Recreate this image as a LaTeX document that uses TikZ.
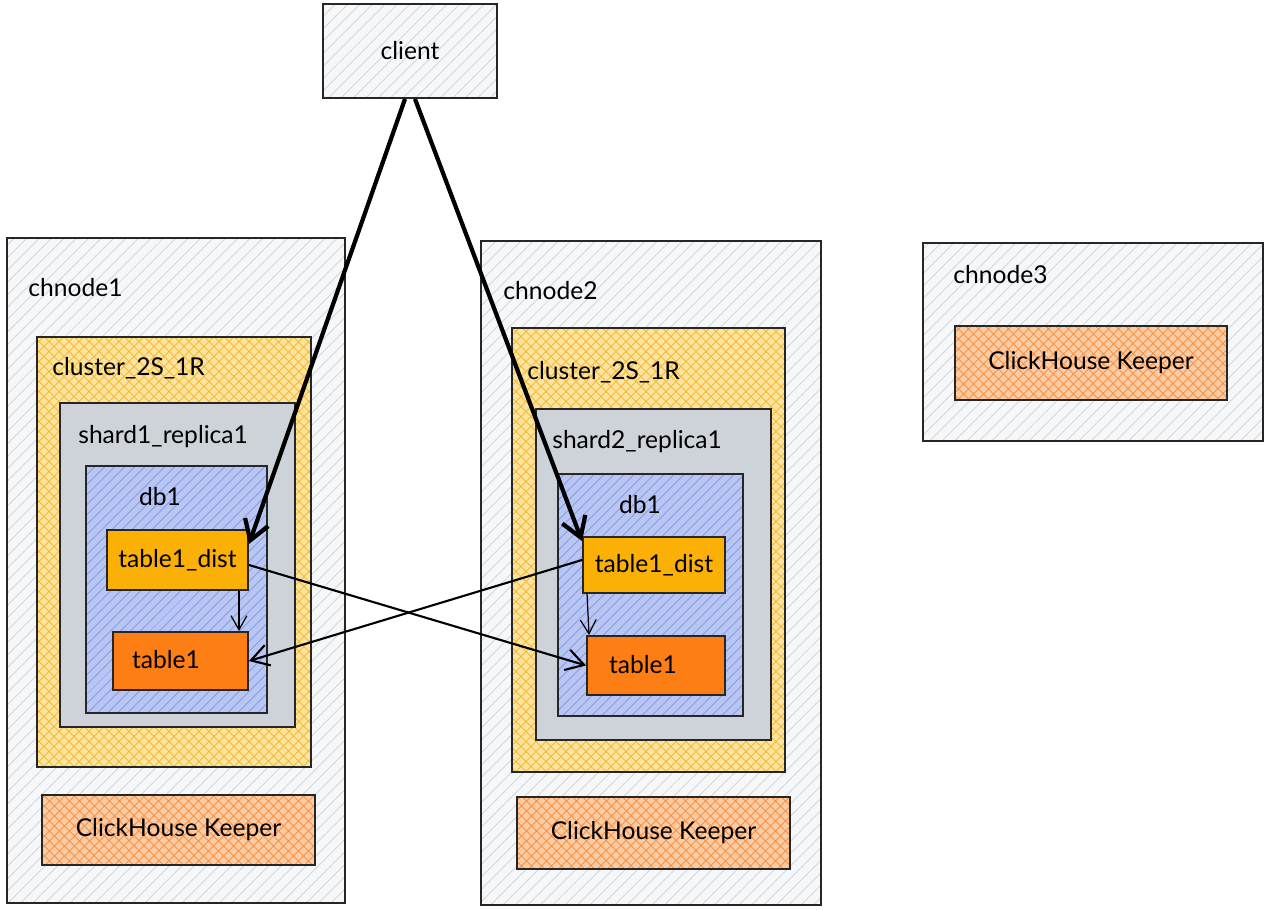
\documentclass[tikz,border=0pt]{standalone}
\usepackage{fontspec}
\setmainfont{Lato}
\usetikzlibrary{arrows.meta,patterns.meta,fit}

\definecolor{hostfill}{HTML}{F6F7F8}
\definecolor{hostline}{HTML}{D3D7DC}
\definecolor{clusterfill}{HTML}{FBE3A0}
\definecolor{clusterline}{HTML}{F7B52A}
\definecolor{shardfill}{HTML}{CED3DA}
\definecolor{dbfill}{HTML}{BAC6F2}
\definecolor{dbline}{HTML}{7F97EC}
\definecolor{distfill}{HTML}{FAB005}
\definecolor{tablefill}{HTML}{FD7E14}
\definecolor{keeperfill}{HTML}{FBCBA4}
\definecolor{keeperline}{HTML}{F98B3A}

\begin{document}
\begin{tikzpicture}[x=0.02cm,y=-0.02cm,
    font=\fontsize{14}{16}\selectfont,
    box/.style={draw=black!85, line width=1.1pt, inner sep=0pt},
    host/.style={box, preaction={fill=hostfill},
        preaction={pattern={Lines[angle=45,distance=5pt,line width=0.5pt]}, pattern color=hostline}},
    cluster/.style={box, preaction={fill=clusterfill},
        preaction={pattern={Lines[angle=45,distance=4pt,line width=0.5pt]}, pattern color=clusterline},
        preaction={pattern={Lines[angle=-45,distance=4pt,line width=0.5pt]}, pattern color=clusterline}},
    shard/.style={box, fill=shardfill},
    db/.style={box, preaction={fill=dbfill},
        preaction={pattern={Lines[angle=45,distance=4pt,line width=0.5pt]}, pattern color=dbline}},
    distbox/.style={box, fill=distfill},
    tablebox/.style={box, fill=tablefill},
    keeper/.style={box, preaction={fill=keeperfill},
        preaction={pattern={Lines[angle=45,distance=4pt,line width=0.5pt]}, pattern color=keeperline},
        preaction={pattern={Lines[angle=-45,distance=4pt,line width=0.5pt]}, pattern color=keeperline}},
    title/.style={anchor=west, inner sep=0pt},
    query/.style={line width=2.4pt, -{Straight Barb[length=11pt,width=14pt,line width=2.4pt]}},
    remote/.style={line width=1.2pt, -{Straight Barb[length=10pt,width=12pt,line width=1.2pt]}},
    local/.style={line width=0.7pt, -{Straight Barb[length=8pt,width=9pt,line width=0.7pt]}}]

\useasboundingbox (0,0) rectangle (1268,911);

% client
\node[host, fit={(323,4) (497,98)}] (client) {};
\node at (client.center) {client};

% chnode1
\node[host, fit={(7,238) (345,903)}] (chnodeA) {};
\node[title] at (28,288) {chnode1};
\node[cluster, fit={(37,337) (311,767)}] (clusterA) {};
\node[title] at (52,368) {cluster\_2S\_1R};
\node[shard, fit={(60,403) (295,727)}] (shardA) {};
\node[title] at (78,437) {shard1\_replica1};
\node[db, fit={(86,466) (267,713)}] (dbA) {};
\node at (160,497) {db1};
\node[distbox, fit={(107,530) (248,590)}] (distA) {};
\node at (distA.center) {table1\_dist};
\node[tablebox, fit={(113,632) (248,690)}] (tableA) {};
\node at (166,660) {table1};
\node[keeper, fit={(42,795) (315,865)}] (keeperA) {};
\node at (keeperA.center) {ClickHouse Keeper};

% chnode2
\node[host, fit={(481,241) (821,905)}] (chnodeB) {};
\node[title] at (503,291) {chnode2};
\node[cluster, fit={(512,328) (785,772)}] (clusterB) {};
\node[title] at (527,372) {cluster\_2S\_1R};
\node[shard, fit={(536,409) (771,740)}] (shardB) {};
\node[title] at (552,442) {shard2\_replica1};
\node[db, fit={(558,474) (743,716)}] (dbB) {};
\node at (640,505) {db1};
\node[distbox, fit={(583,537) (725,593)}] (distB) {};
\node at (distB.center) {table1\_dist};
\node[tablebox, fit={(587,636) (725,695)}] (tableB) {};
\node at (643,665) {table1};
\node[keeper, fit={(517,797) (790,869)}] (keeperB) {};
\node at (keeperB.center) {ClickHouse Keeper};

% chnode3
\node[host, fit={(923,243) (1263,441)}] (chnodeC) {};
\node[title] at (953,275) {chnode3};
\node[keeper, fit={(955,326) (1227,400)}] (keeperC) {};
\node at (keeperC.center) {ClickHouse Keeper};

% queries
\draw[query] ([xshift=-0.1cm]client.south) -- ([yshift=-0.3cm]distA.north east);
\draw[query] ([xshift=0.1cm]client.south) -- ([yshift=-0.1cm]distB.north west);

\draw[remote] ([yshift=-0.1cm]distA.east) -- (tableB.west);
\draw[remote] ([yshift=0.1cm]distB.west) -- (tableA.east);

\draw[local] ([xshift=-0.2cm]distA.south east) -- ([xshift=-0.2cm]tableA.north east);
\draw[local] ([xshift=0.1cm]distB.south west) -- ([xshift=0.06cm]tableB.north west);

\end{tikzpicture}
\end{document}
